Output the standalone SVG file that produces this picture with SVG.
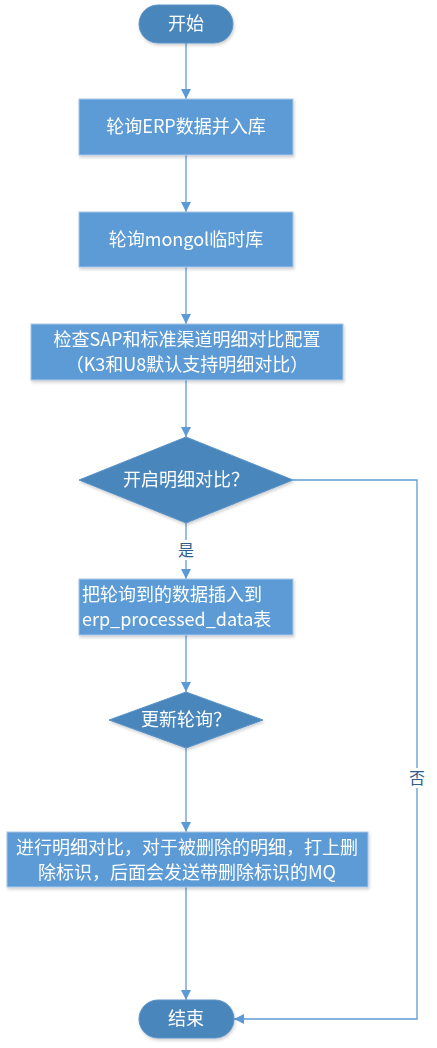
<svg xmlns="http://www.w3.org/2000/svg" width="437" height="1048" viewBox="0 0 437 1048">
<style>
.box{fill:#5B9BD5;stroke:#A9C6E8;stroke-width:1}
.dark{fill:#4A86BC;stroke:#5B93C8;stroke-width:1}
.t{font-family:"Microsoft YaHei","Noto Sans CJK SC",sans-serif;font-size:18px;fill:#FFFFFF}
.c{text-anchor:middle}
.lbl{font-family:"Microsoft YaHei","Noto Sans CJK SC",sans-serif;font-size:16px;fill:#2E5E8E;text-anchor:middle}
.ln{fill:none;stroke:#5B9BD5;stroke-width:1.3}
</style>
<defs>
<marker id="ah" viewBox="0 0 10 10" refX="10" refY="5" markerWidth="10" markerHeight="10" markerUnits="userSpaceOnUse" orient="auto">
<path d="M0,0 L10,5 L0,10 Z" fill="#5B9BD5"/>
</marker>
<filter id="sh" x="-10%" y="-10%" width="130%" height="140%">
<feDropShadow dx="1" dy="2" stdDeviation="1.5" flood-color="#000" flood-opacity="0.18"/>
</filter>
</defs>
<rect width="437" height="1048" fill="#FFFFFF"/>
<g id="connectors">
<line class="ln" x1="186" y1="43" x2="186" y2="99" marker-end="url(#ah)"/>
<line class="ln" x1="186" y1="155" x2="186" y2="212" marker-end="url(#ah)"/>
<line class="ln" x1="186" y1="267" x2="186" y2="324" marker-end="url(#ah)"/>
<line class="ln" x1="186" y1="380" x2="186" y2="437" marker-end="url(#ah)"/>
<line class="ln" x1="186" y1="523" x2="186" y2="579" marker-end="url(#ah)"/>
<line class="ln" x1="186" y1="635" x2="186" y2="692" marker-end="url(#ah)"/>
<line class="ln" x1="186" y1="748" x2="186" y2="832" marker-end="url(#ah)"/>
<line class="ln" x1="186" y1="887" x2="186" y2="1000" marker-end="url(#ah)"/>
<polyline class="ln" points="293,480 417,480 417,1019 234,1019" marker-end="url(#ah)"/>
<rect x="176" y="540" width="20" height="20" fill="#FFFFFF"/>
<text class="lbl" x="186" y="556">是</text>
<rect x="407" y="768" width="20" height="20" fill="#FFFFFF"/>
<text class="lbl" x="417" y="784">否</text>
</g>
<g id="start" filter="url(#sh)">
<rect class="dark" x="139" y="5" width="94" height="38" rx="19"/>
<text class="t c" x="186" y="30">开始</text>
</g>
<g id="poll-erp" filter="url(#sh)">
<rect class="box" x="79" y="99" width="214" height="56"/>
<text class="t c" x="186" y="133">轮询ERP数据并入库</text>
</g>
<g id="poll-mongo" filter="url(#sh)">
<rect class="box" x="79" y="212" width="214" height="55"/>
<text class="t c" x="186" y="246">轮询mongol临时库</text>
</g>
<g id="check-config" filter="url(#sh)">
<rect class="box" x="31" y="324" width="312" height="56"/>
<text class="t c" x="187" y="346">检查SAP和标准渠道明细对比配置</text>
<text class="t c" x="187" y="371">（K3和U8默认支持明细对比）</text>
</g>
<g id="decision-compare" filter="url(#sh)">
<polygon class="dark" points="186,437 293,480 186,523 79,480"/>
<text class="t c" x="186" y="486">开启明细对比？</text>
</g>
<g id="insert-data" filter="url(#sh)">
<rect class="box" x="79" y="579" width="214" height="56"/>
<text class="t" x="82" y="601">把轮询到的数据插入到</text>
<text class="t" x="82" y="626">erp_processed_data表</text>
</g>
<g id="decision-update" filter="url(#sh)">
<polygon class="dark" points="186,692 263,720 186,748 109,720"/>
<text class="t c" x="186" y="726">更新轮询？</text>
</g>
<g id="mark-delete" filter="url(#sh)">
<rect class="box" x="7" y="832" width="361" height="55"/>
<text class="t c" x="187" y="854">进行明细对比，对于被删除的明细，打上删</text>
<text class="t c" x="187" y="879">除标识，后面会发送带删除标识的MQ</text>
</g>
<g id="end" filter="url(#sh)">
<rect class="dark" x="139" y="1000" width="95" height="38" rx="19"/>
<text class="t c" x="186" y="1025">结束</text>
</g>
</svg>
